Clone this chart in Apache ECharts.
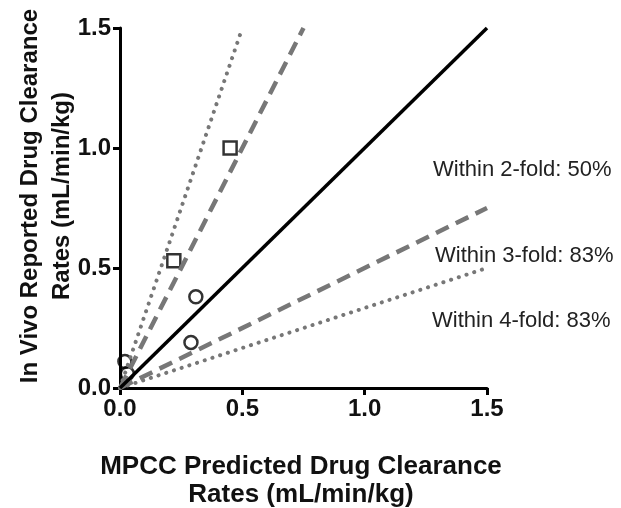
<!DOCTYPE html>
<html>
<head>
<meta charset="utf-8">
<script src="https://cdn.jsdelivr.net/npm/echarts@6/dist/echarts.min.js"></script>
<style>
  html, body { margin: 0; padding: 0; background: #fff; }
  #chart { width: 621px; height: 508px; }
</style>
</head>
<body>
<div id="chart"></div>
<script>
// observed points (predicted, in vivo)
const squarePoints = [[0.22, 0.53], [0.45, 1.0]];
const circlePoints = [[0.31, 0.38], [0.29, 0.19], [0.02, 0.11], [0.03, 0.06]];
// reference lines: unity, 2-fold, 3-fold
const unityLine = [[0, 0], [1.5, 1.5]];
const twoFoldUpper = [[0, 0], [0.75, 1.5]];
const twoFoldLower = [[0, 0], [1.5, 0.75]];
const threeFoldUpper = [[0, 0], [0.5, 1.5]];
const threeFoldLower = [[0, 0], [1.5, 0.5]];
const tickValues = [0, 0.5, 1.0, 1.5];
const foldLabels = ['Within 2-fold: 50%', 'Within 3-fold: 83%', 'Within 4-fold: 83%'];

const FONT = '"Liberation Sans", Arial, Helvetica, sans-serif';
const GRAY = '#777777';

const chart = echarts.init(document.getElementById('chart'));

const axisCommon = {
  type: 'value',
  min: tickValues[0],
  max: tickValues[tickValues.length - 1],
  interval: 0.5,
  splitLine: { show: false },
  axisLine: { show: true, onZero: false, lineStyle: { color: '#000', width: 3 } },
  axisTick: { show: true, length: 7, lineStyle: { color: '#000', width: 3 } },
  axisLabel: {
    color: '#111',
    fontFamily: FONT,
    fontWeight: 'bold',
    fontSize: 24,
    formatter: (v) => v.toFixed(1),
  },
};

const option = {
  backgroundColor: '#fff',
  animation: false,
  grid: { left: 120, right: 134, top: 28, bottom: 120 },
  xAxis: { ...axisCommon, axisLabel: { ...axisCommon.axisLabel, margin: 9 } },
  yAxis: { ...axisCommon, axisLabel: { ...axisCommon.axisLabel, margin: 9 } },
  graphic: [
    {
      type: 'text',
      x: 46,
      y: 196,
      rotation: Math.PI / 2,
      style: {
        text: 'In Vivo Reported Drug Clearance\nRates (mL/min/kg)',
        fontFamily: FONT,
        fontWeight: 'bold',
        fontSize: 24,
        lineHeight: 32,
        fill: '#111',
        align: 'center',
        verticalAlign: 'middle',
      },
    },
    {
      type: 'text',
      x: 301,
      y: 481,
      style: {
        text: 'MPCC Predicted Drug Clearance\nRates (mL/min/kg)',
        fontFamily: FONT,
        fontWeight: 'bold',
        fontSize: 26,
        lineHeight: 28,
        fill: '#111',
        align: 'center',
        verticalAlign: 'middle',
      },
    },
    {
      type: 'text', x: 433, y: 170,
      style: { text: foldLabels[0], fontFamily: FONT, fontSize: 22, fill: '#222', verticalAlign: 'middle' },
    },
    {
      type: 'text', x: 435, y: 256,
      style: { text: foldLabels[1], fontFamily: FONT, fontSize: 22, fill: '#222', verticalAlign: 'middle' },
    },
    {
      type: 'text', x: 432, y: 321,
      style: { text: foldLabels[2], fontFamily: FONT, fontSize: 22, fill: '#222', verticalAlign: 'middle' },
    },
  ],
  series: [
    {
      type: 'line', data: threeFoldUpper, symbol: 'none', silent: true,
      lineStyle: { color: GRAY, width: 4, type: [0.1, 8], cap: 'round' },
    },
    {
      type: 'line', data: threeFoldLower, symbol: 'none', silent: true,
      lineStyle: { color: GRAY, width: 4, type: [0.1, 8], cap: 'round' },
    },
    {
      type: 'line', data: twoFoldUpper, symbol: 'none', silent: true,
      lineStyle: { color: GRAY, width: 4.5, type: [14, 8] },
    },
    {
      type: 'line', data: twoFoldLower, symbol: 'none', silent: true,
      lineStyle: { color: GRAY, width: 4.5, type: [14, 8] },
    },
    {
      type: 'line', data: unityLine, symbol: 'none', silent: true,
      lineStyle: { color: '#000', width: 3.5 },
    },
    {
      type: 'scatter', data: squarePoints, symbol: 'rect', symbolSize: 13,
      itemStyle: { color: '#fff', borderColor: '#000', borderWidth: 2.5 },
    },
    {
      type: 'scatter', data: circlePoints, symbol: 'circle', symbolSize: 13,
      itemStyle: { color: 'rgba(255,255,255,0)', borderColor: '#000', borderWidth: 2.5 },
    },
  ],
};

chart.setOption(option);
</script>
</body>
</html>
